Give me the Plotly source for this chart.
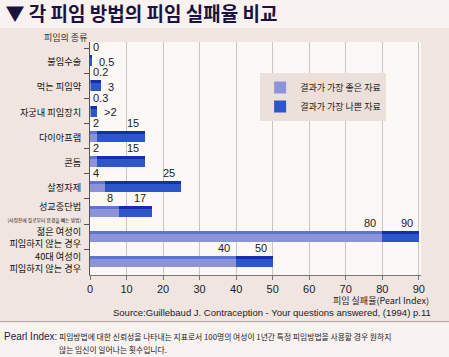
import plotly.graph_objects as go

categories = ["불임수술", "먹는 피임약", "자궁내 피임장치", "다이아프램", "콘돔", "살정자제",
              "성교중단법<br><span style='font-size:4.8px'>(사정전에 질로부터 음경을 빼는 방법)</span>",
              "젊은 여성이<br>피임하지 않는 경우", "40대 여성이<br>피임하지 않는 경우"]
best_values = [0, 0.2, 0.3, 2, 2, 4, 8, 80, 40]
worst_values = [0.5, 3, 2, 15, 15, 25, 17, 90, 50]
best_labels = ["0", "0.2", "0.3", "2", "2", "4", "8", "80", "40"]
worst_labels = ["0.5", "3", ">2", "15", "15", "25", "17", "90", "50"]
x_ticks = [0, 10, 20, 30, 40, 50, 60, 70, 80, 90]
series_names = ["결과가 가장 좋은 자료", "결과가 가장 나쁜 자료"]

KR = "Noto Sans CJK KR"
ypos = list(range(len(categories)))
diff = [w - b for w, b in zip(worst_values, best_values)]

LIGHT_FRONT = "#8d93d8"
LIGHT_TOP = "#5d74d2"
DARK_FRONT = "#2d56c8"
DARK_TOP = "#142fae"

fig = go.Figure()
# front faces
fig.add_trace(go.Bar(y=ypos, x=best_values, base=0, orientation="h", width=0.32, offset=-0.15,
                     marker=dict(color=LIGHT_FRONT, line_width=0), name=series_names[0]))
fig.add_trace(go.Bar(y=ypos, x=diff, base=best_values, orientation="h", width=0.32, offset=-0.15,
                     marker=dict(color=DARK_FRONT, line_width=0), name=series_names[1]))
# top faces (3D look)
fig.add_trace(go.Bar(y=ypos, x=best_values, base=0, orientation="h", width=0.12, offset=-0.27,
                     marker=dict(color=LIGHT_TOP, line_width=0), showlegend=False))
fig.add_trace(go.Bar(y=ypos, x=diff, base=best_values, orientation="h", width=0.12, offset=-0.27,
                     marker=dict(color=DARK_TOP, line_width=0), showlegend=False))

annotations = []
for i, (b, w, bl, wl) in enumerate(zip(best_values, worst_values, best_labels, worst_labels)):
    tf = dict(family="Liberation Sans, Arial", size=11, color="#222")
    if b < 5:
        annotations.append(dict(x=0, y=i - 0.27, text=bl, xanchor="left", yanchor="bottom",
                                xshift=1, showarrow=False, font=tf))
    else:
        annotations.append(dict(x=b, y=i - 0.27, text=bl, xanchor="right", yanchor="bottom",
                                xshift=-4, showarrow=False, font=tf))
    if w < 5:
        annotations.append(dict(x=w, y=i, text=wl, xanchor="left", yanchor="middle",
                                xshift=5, showarrow=False, font=tf))
    else:
        annotations.append(dict(x=w, y=i - 0.27, text=wl, xanchor="right", yanchor="bottom",
                                xshift=-4, showarrow=False, font=tf))

# texts in paper coordinates
annotations += [
    dict(xref="paper", yref="paper", x=-0.145, y=1.021, text="피임의 종류", showarrow=False,
         xanchor="left", yanchor="middle", font=dict(family=KR, size=9, color="#333")),
    dict(xref="paper", yref="paper", x=1.03, y=-0.108, text="피임 실패율(Pearl Index)", showarrow=False,
         xanchor="right", yanchor="middle", font=dict(family=KR, size=9, color="#222")),
    dict(xref="paper", yref="paper", x=1.035, y=-0.163,
         text="Source:Guillebaud J. Contraception - Your questions answered, (1994) p.11",
         showarrow=False, xanchor="right", yanchor="middle",
         font=dict(family="Liberation Sans, Arial", size=9.5, color="#222")),
    dict(xref="paper", yref="paper", x=-0.265, y=-0.262, xanchor="left", yanchor="middle",
         text="Pearl Index:", showarrow=False,
         font=dict(family="Liberation Sans, Arial", size=10, color="#1a1a50")),
    dict(xref="paper", yref="paper", x=-0.099, y=-0.262, xanchor="left", yanchor="middle",
         text="피임방법에 대한 신뢰성을 나타내는 지표로서 100명의 여성이 1년간 특정 피임방법을 사용할 경우 원하지",
         showarrow=False, font=dict(family=KR, size=7.8, color="#222")),
    dict(xref="paper", yref="paper", x=-0.099, y=-0.318, xanchor="left", yanchor="middle",
         text="않는 임신이 일어나는 횟수입니다.",
         showarrow=False, font=dict(family=KR, size=7.8, color="#222")),
]

fig.update_layout(
    width=449, height=357,
    margin=dict(l=90, r=28, t=42, b=82, autoexpand=False),
    paper_bgcolor="#f0e5e0",
    plot_bgcolor="#fbf8f6",
    barmode="overlay",
    bargap=0,
    showlegend=True,
    legend=dict(x=0.514, y=0.867, xanchor="left", yanchor="top", bgcolor="#ece0da",
                borderwidth=0, font=dict(family=KR, size=9, color="#222"),
                itemwidth=30, tracegroupgap=4),
    title=dict(text="<b>▼ 각 피임 방법의 피임 실패율 비교</b>", x=0.012, xanchor="left",
               y=0.961, yanchor="middle", font=dict(family=KR, size=19, color="#1a1240")),
    xaxis=dict(range=[0, 90.6], tickvals=x_ticks, ticktext=[str(t) for t in x_ticks],
               showgrid=True, gridcolor="#c9c6c6", gridwidth=1, zeroline=False,
               showline=True, linecolor="#777", linewidth=1, automargin=False,
               ticks="outside", ticklen=4, tickcolor="#777",
               tickfont=dict(family="Liberation Sans, Arial", size=11, color="#222")),
    yaxis=dict(range=[8.48, -0.8], tickvals=ypos, ticktext=categories, showgrid=False,
               zeroline=False, showline=True, linecolor="#555", linewidth=1, ticks="",
               ticklabelstandoff=6, automargin=False,
               minor=dict(tickvals=[i - 0.55 for i in ypos], ticks="outside", ticklen=5,
                          tickcolor="#555", showgrid=False),
               tickfont=dict(family=KR, size=9.2, color="#111")),
    annotations=annotations,
    shapes=[
        dict(type="rect", xref="paper", yref="paper", x0=-0.3, x1=1.2, y0=1.06, y1=1.3,
             fillcolor="#f8f2f0", line_width=0, layer="below"),
        dict(type="rect", xref="paper", yref="paper", x0=-0.3, x1=1.2, y0=-0.4, y1=-0.2,
             fillcolor="#f8f2f0", line_width=0, layer="below"),
        dict(type="line", xref="paper", yref="paper", x0=-0.3, x1=1.2, y0=-0.2, y1=-0.2,
             line=dict(color="#a9a09c", width=1)),
    ],
)

fig.write_html("out.html", config={"displayModeBar": False},
               post_script="document.body.style.margin='0';")
